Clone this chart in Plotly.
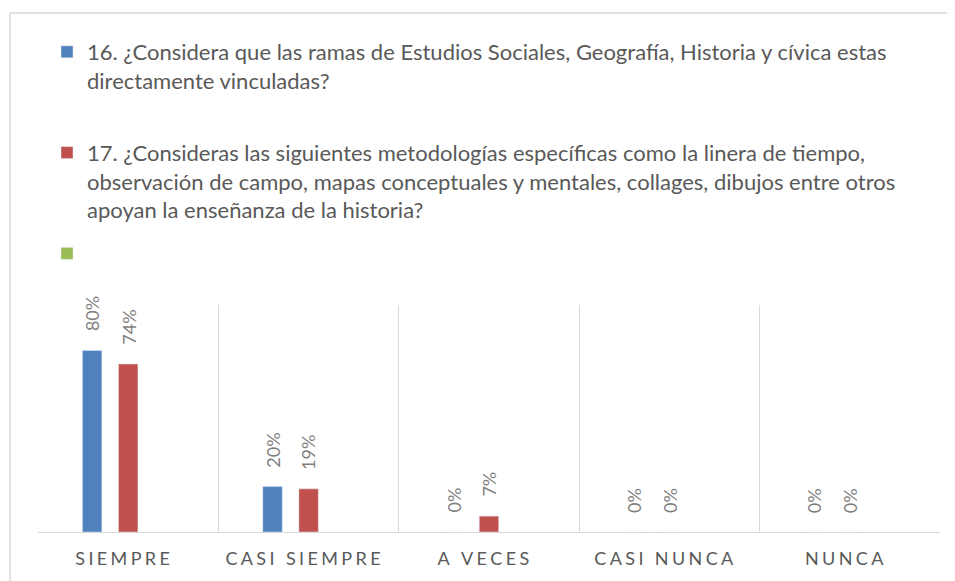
import plotly.graph_objects as go

# categories and answer shares (fractions)
categorias = ["SIEMPRE", "CASI SIEMPRE", "A VECES", "CASI NUNCA", "NUNCA"]
p16 = [0.80, 0.20, 0.00, 0.00, 0.00]
p17 = [0.74, 0.19, 0.07, 0.00, 0.00]
p18 = [None, None, None, None, None]

nombre16 = "16. ¿Considera que las ramas de Estudios Sociales, Geografía, Historia y cívica estas<br>directamente vinculadas?<br> "
nombre17 = ("17. ¿Consideras las siguientes metodologías específicas como la linera de tiempo,<br>"
            "observación de campo, mapas conceptuales y mentales, collages, dibujos entre otros<br>"
            "apoyan la enseñanza de la historia?")

# spaced-out tick labels (Excel style character spacing, trailing spacing too)
def espaciar(s):
    return "\u2009\u200a".join(s) + "\u2002\u2009"

ticks = [espaciar(c) for c in categorias]

fig = go.Figure()
fig.add_trace(go.Bar(x=categorias, y=p16, name=nombre16, marker_color="#4F81BD", legendgroup="a"))
fig.add_trace(go.Bar(x=categorias, y=p17, name=nombre17, marker_color="#C0504D", legendgroup="b"))
fig.add_trace(go.Bar(x=categorias, y=p18, name="", marker_color="#9BBB59", legendgroup="c"))

# rotated data labels
for serie, shift in [(p16, -36), (p17, 0)]:
    for c, v in zip(categorias, serie):
        fig.add_annotation(x=c, y=v, text=f"{v:.0%}", textangle=-90, showarrow=False,
                           xanchor="center", yanchor="bottom", xshift=shift, yshift=17,
                           font=dict(family="Lato", size=18, color="#7F7F7F"))

# outer chart border
fig.add_shape(type="rect", xref="paper", yref="paper", x0=-0.031, x1=1.0089, y0=-0.3, y1=2.286,
              line=dict(color="#D9D9D9", width=1.5), layer="above")

fig.update_layout(
    width=947, height=573,
    margin=dict(l=30, r=15, t=297, b=49, autoexpand=False),
    paper_bgcolor="white", plot_bgcolor="white",
    barmode="group", bargap=0.4, bargroupgap=0.46,
    font=dict(family="Lato", color="#595959"),
    legend=dict(xref="container", yref="container", x=39 / 947, y=1 - 23 / 573,
                xanchor="left", yanchor="top", valign="top", tracegroupgap=12,
                font=dict(family="Lato", size=22, color="#595959")),
    xaxis=dict(tickvals=categorias, ticktext=ticks, tickson="boundaries", showgrid=True,
               gridcolor="#D9D9D9", showline=True, linecolor="#D9D9D9", ticks="", tickangle=0,
               ticklabelstandoff=10,
               tickfont=dict(family="Lato", size=18, color="#595959")),
    yaxis=dict(range=[0, 1], visible=False),
)

fig.write_html("out.html")
